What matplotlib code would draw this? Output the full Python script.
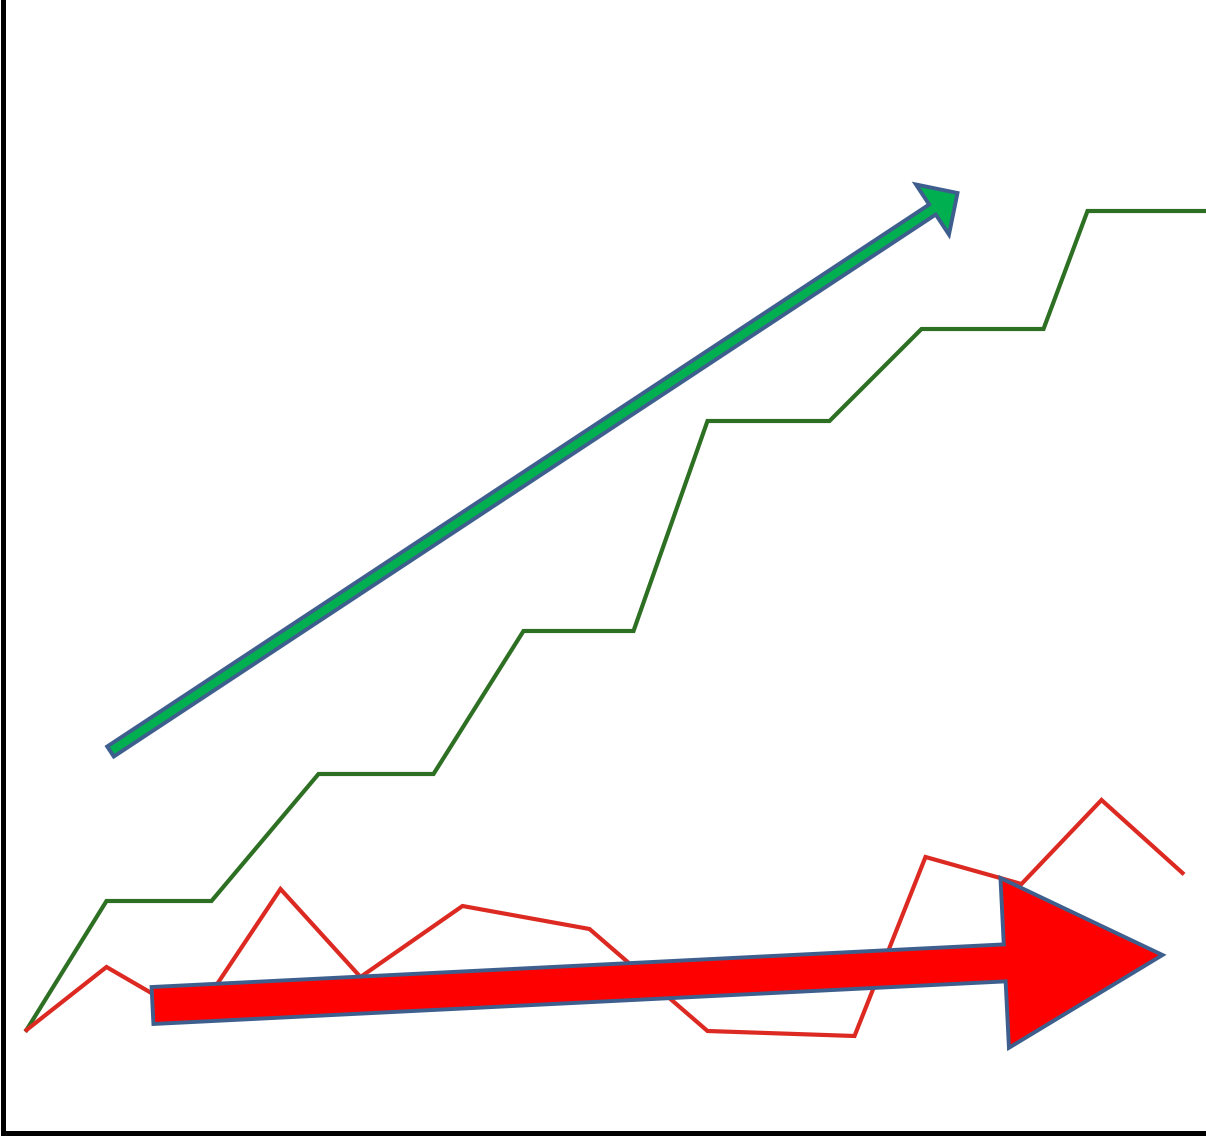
import matplotlib
matplotlib.use("Agg")
import matplotlib.pyplot as plt
from matplotlib.patches import FancyArrow

# Data (arbitrary units)
green_x = [23, 103, 208, 315, 430, 520, 630, 704, 826, 918, 1040, 1084, 1202]
green_y = [103, 232, 232, 359, 359, 502, 502, 712, 712, 804, 804, 922, 922]

red_x = [23, 103, 191, 277, 357, 459, 586, 704, 851, 922, 1018, 1098, 1179]
red_y = [103, 166, 115, 244, 156, 227, 204, 102, 97, 276, 249, 333, 260]

# Trend arrows: (tail x, tail y, tip x, tip y)
green_trend = (107, 381.5, 954, 940)
red_trend = (149, 127.5, 1159, 178)

W, H = 1206, 1136
fig = plt.figure(figsize=(W / 100, H / 100), dpi=100)
ax = fig.add_axes([3.5 / W, 3 / H, 1199.5 / W, 1 - 3 / H])
ax.set_xlim(0, 1199.5)
ax.set_ylim(0, 1133)

ax.plot(green_x, green_y, color="#2E7023", lw=3.0, clip_on=False, zorder=2,
        solid_joinstyle="miter")
ax.plot(red_x, red_y, color="#DC2A22", lw=3.0, clip_on=False, zorder=2,
        solid_joinstyle="miter")

edge = "#3E5F8E"

gx0, gy0, gx1, gy1 = green_trend
ax.add_patch(FancyArrow(gx0, gy0, gx1 - gx0, gy1 - gy0, width=12, head_width=60,
                        head_length=30, length_includes_head=True,
                        facecolor="#00B050", edgecolor=edge, lw=2.8,
                        joinstyle="miter", zorder=4, clip_on=False))

rx0, ry0, rx1, ry1 = red_trend
ax.add_patch(FancyArrow(rx0, ry0, rx1 - rx0, ry1 - ry0, width=37, head_width=170,
                        head_length=158, length_includes_head=True,
                        facecolor="#FF0000", edgecolor=edge, lw=2.8,
                        joinstyle="miter", zorder=4, clip_on=False))

for s in ["top", "right"]:
    ax.spines[s].set_visible(False)
for s in ["left", "bottom"]:
    ax.spines[s].set_linewidth(3.6)
    ax.spines[s].set_color("black")
ax.set_xticks([])
ax.set_yticks([])

fig.savefig("out.png", dpi=100)
